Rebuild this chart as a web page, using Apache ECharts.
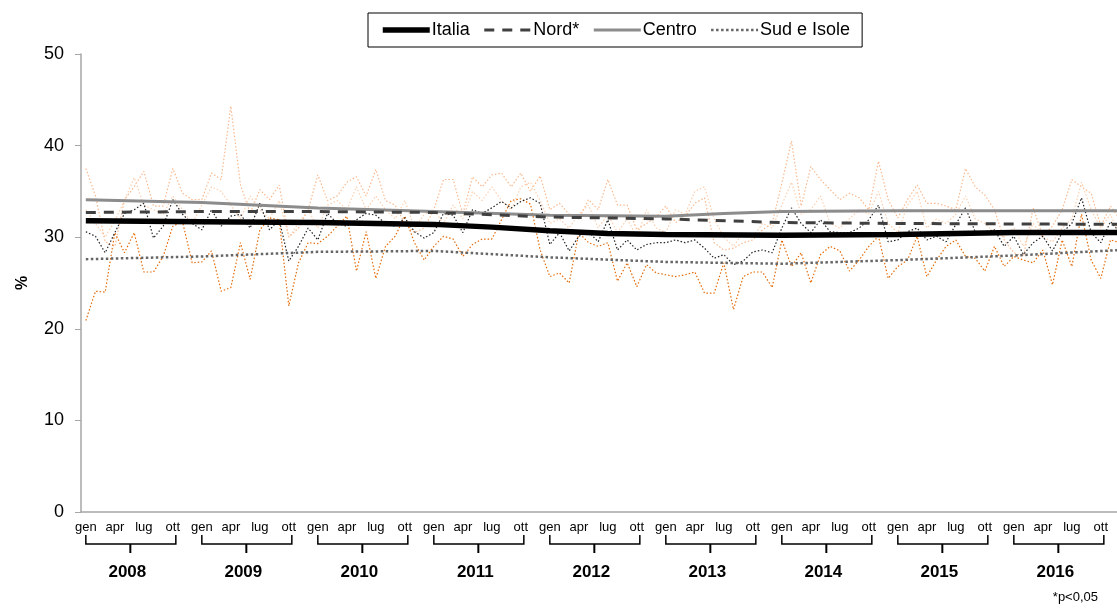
<!DOCTYPE html>
<html>
<head>
<meta charset="utf-8">
<script src="https://cdn.jsdelivr.net/npm/echarts@6/dist/echarts.min.js"></script>
<style>
  html, body { margin: 0; padding: 0; background: #fff; }
  #main { width: 1117px; height: 610px; }
</style>
</head>
<body>
<div id="main"></div>
<script>
const monthNames = ['gen', 'feb', 'mar', 'apr', 'mag', 'giu', 'lug', 'ago', 'set', 'ott', 'nov', 'dic'];
const years = ['2008', '2009', '2010', '2011', '2012', '2013', '2014', '2015', '2016'];

// monthly values (thin dotted lines)
const italiaMonthly = [
  30.6, 30.1, 28.3, 30.5, 32.6, 33.0, 33.7, 29.9, 31.2, 34.1, 32.5, 31.5,
  30.8, 33.0, 31.2, 32.3, 32.5, 31.0, 33.7, 30.8, 31.9, 27.4, 29.0, 31.0,
  29.7, 32.6, 31.5, 31.2, 31.9, 32.6, 32.4, 31.5, 31.2, 32.1, 30.6, 29.9,
  30.5, 32.6, 32.4, 30.5, 33.0, 32.6, 33.2, 33.9, 33.2, 33.9, 34.3, 33.7,
  29.2, 30.5, 28.5, 30.1, 30.6, 29.5, 31.9, 28.6, 29.7, 28.6, 29.2, 29.4,
  29.4, 29.7, 29.4, 29.7, 28.8, 27.7, 28.1, 27.0, 27.4, 28.4, 28.6, 28.3,
  31.0, 33.2, 31.5, 30.5, 31.9, 30.6, 30.5, 30.5, 31.0, 31.9, 33.5, 29.5,
  29.7, 30.6, 31.0, 29.7, 30.1, 29.5, 31.4, 33.2, 30.6, 30.6, 30.8, 29.0,
  30.1, 28.1, 29.4, 30.1, 28.5, 30.5, 31.5, 34.3, 30.5, 29.4, 31.7, 30.5
];
const nordMonthly = [
  33.0, 31.5, 30.0, 31.8, 34.0, 36.5, 33.5, 33.0, 32.5, 34.5, 33.0, 31.5,
  33.5, 35.5, 35.0, 33.5, 32.0, 34.5, 33.0, 32.0, 34.0, 30.0, 31.5, 33.0,
  31.0, 33.5, 34.0, 33.0, 35.5, 33.0, 34.5, 33.0, 32.0, 34.0, 31.0, 32.5,
  33.0, 31.5, 33.5, 32.0, 35.0, 34.0, 35.5, 34.0, 33.0, 35.5, 36.0, 34.0,
  31.5, 32.0, 31.0, 32.5, 33.5, 31.0, 32.5, 30.5, 32.0, 30.0, 33.0, 31.0,
  30.5, 33.0, 32.5, 35.0, 35.5, 32.0, 30.0, 29.0, 30.5, 30.0, 31.5, 31.0,
  33.5, 36.0, 32.5, 33.0, 34.5, 31.5, 31.0, 32.0, 33.0, 32.5, 35.0, 31.5,
  30.5, 33.5, 35.0, 31.0, 32.0, 31.5, 32.5, 34.5, 32.0, 31.5, 30.5, 30.0,
  31.0, 29.0, 31.5, 30.0, 29.5, 31.0, 32.0, 36.0, 33.0, 31.0, 32.5, 30.0
];
const centroMonthly = [
  37.5, 34.5, 29.5, 29.0, 34.1, 35.5, 37.2, 33.4, 33.4, 37.5, 34.8, 34.1,
  34.1, 37.0, 36.3, 44.3, 35.7, 32.6, 35.2, 34.1, 35.7, 30.0, 31.0, 33.0,
  36.8, 34.0, 34.5, 36.0, 36.6, 34.5, 37.4, 34.0, 33.5, 31.5, 30.5, 31.0,
  33.0, 36.3, 36.3, 32.5, 36.6, 35.5, 36.8, 37.0, 35.5, 37.0, 35.0, 36.7,
  33.0, 33.7, 32.5, 32.0, 34.1, 33.0, 36.3, 33.5, 33.5, 30.8, 31.5, 32.2,
  33.4, 31.6, 32.3, 33.7, 34.3, 29.4, 28.6, 28.8, 29.4, 29.7, 30.8, 31.5,
  35.9, 40.5, 33.4, 37.7, 36.3, 35.2, 34.1, 34.8, 34.3, 33.0, 38.3, 34.1,
  32.1, 34.1, 35.7, 33.7, 33.7, 33.4, 33.0, 37.5, 35.5, 34.6, 33.0, 29.7,
  28.3, 27.9, 33.2, 30.1, 31.2, 33.0, 36.3, 35.5, 34.8, 31.2, 33.4, 31.9
];
const sudMonthly = [
  20.9, 24.1, 24.0, 30.5, 28.3, 30.5, 26.2, 26.2, 27.9, 31.2, 31.7, 27.2,
  27.3, 28.5, 24.1, 24.5, 29.4, 25.4, 30.8, 32.1, 31.9, 22.5, 27.2, 29.4,
  29.3, 30.1, 31.2, 32.3, 26.3, 30.6, 25.5, 29.0, 30.1, 32.3, 29.4, 27.5,
  29.0, 30.1, 29.8, 27.9, 29.2, 29.8, 29.8, 31.9, 34.0, 34.2, 33.6, 28.6,
  25.7, 26.1, 25.0, 30.5, 29.4, 29.0, 29.4, 25.2, 27.2, 24.6, 27.0, 26.1,
  25.9, 25.7, 25.9, 26.2, 23.9, 23.9, 27.2, 22.1, 25.7, 26.2, 26.2, 24.5,
  29.7, 26.8, 28.3, 25.0, 28.1, 29.0, 28.5, 26.3, 27.5, 29.0, 30.1, 25.5,
  26.8, 27.5, 30.1, 25.7, 27.5, 29.0, 29.7, 27.9, 27.7, 26.3, 29.0, 26.8,
  27.9, 27.5, 27.2, 28.6, 24.8, 29.7, 26.8, 32.5, 27.5, 25.5, 29.7, 29.4
];

// trend lines: [month index, value]
const italiaTrend = [[0, 31.8], [12, 31.7], [24, 31.6], [36, 31.4], [42, 31.1], [48, 30.7], [54, 30.4], [60, 30.3], [72, 30.2], [84, 30.3], [96, 30.5], [107, 30.5]];
const nordTrend = [[0, 32.7], [12, 32.8], [24, 32.8], [36, 32.7], [48, 32.2], [60, 32.0], [72, 31.6], [84, 31.5], [107, 31.4]];
const centroTrend = [[0, 34.1], [12, 33.8], [24, 33.2], [36, 32.8], [48, 32.4], [60, 32.3], [66, 32.6], [72, 32.8], [84, 32.9], [107, 32.9]];
const sudTrend = [[0, 27.6], [12, 27.9], [24, 28.4], [36, 28.5], [48, 27.8], [60, 27.3], [72, 27.1], [84, 27.5], [96, 28.0], [107, 28.6]];

const monthCategories = [];
years.forEach(y => monthNames.forEach(m => monthCategories.push(m + ' ' + y)));

// year brackets: first and last labelled month (gen..ott)
const yearBrackets = years.map((y, i) => [i * 12, i * 12 + 9, 0]);

const FONT = 'Liberation Sans, Arial, sans-serif';

const STYLE = {
  italia: { color: '#000', width: 5.5, type: 'solid' },
  nord: { color: '#404040', width: 3, type: [10, 8] },
  centro: { color: '#8c8c8c', width: 3, type: 'solid' },
  sud: { color: '#666', width: 2.5, type: [2.5, 2.5] }
};

function monthly(name, data, color) {
  return {
    name, type: 'line', data, symbol: 'none', silent: true, z: 2,
    lineStyle: { color, width: 1.2, type: [1.5, 2] }
  };
}

function trend(name, data, style, z) {
  return {
    name, type: 'line', data, symbol: 'none', z,
    itemStyle: { color: style.color },
    lineStyle: style
  };
}

const chart = echarts.init(document.getElementById('main'));

chart.setOption({
  backgroundColor: '#fff',
  animation: false,
  textStyle: { fontFamily: FONT },
  title: {
    text: '*p<0,05', right: 14, top: 586,
    textStyle: { fontSize: 13, fontWeight: 'normal', color: '#000', fontFamily: FONT }
  },
  legend: {
    data: [
      { name: 'Italia', lineStyle: STYLE.italia },
      { name: 'Nord*', lineStyle: STYLE.nord },
      { name: 'Centro', lineStyle: STYLE.centro },
      { name: 'Sud e Isole', lineStyle: STYLE.sud }
    ],
    left: 368, top: 13,
    padding: [8, 12, 8, 12],
    borderColor: '#000', borderWidth: 1,
    itemWidth: 47, itemHeight: 18, itemGap: 13,
    itemStyle: { opacity: 0 },
    textStyle: { fontSize: 18, color: '#000', fontFamily: FONT, padding: [0, 0, 0, -3] }
  },
  grid: { left: 81, right: -8, top: 54, bottom: 98, outerBoundsMode: 'none' },
  xAxis: {
    type: 'category',
    data: monthCategories,
    boundaryGap: true,
    axisLine: { lineStyle: { color: '#a6a6a6', width: 1.5 } },
    axisTick: { interval: 2, length: 4, lineStyle: { color: '#d0d0d0' } },
    axisLabel: {
      interval: 2, margin: 9, color: '#000', fontSize: 13, fontFamily: FONT,
      formatter: v => v.split(' ')[0]
    }
  },
  yAxis: {
    type: 'value', min: 0, max: 50, interval: 10,
    name: '%', nameLocation: 'middle', nameGap: 50, nameRotate: 90,
    nameTextStyle: { fontSize: 16, fontWeight: 'bold', color: '#000', fontFamily: FONT },
    splitLine: { show: false },
    axisLine: { show: true, lineStyle: { color: '#a6a6a6', width: 1.5 } },
    axisTick: { show: true, length: 6, lineStyle: { color: '#a6a6a6' } },
    axisLabel: { color: '#000', fontSize: 18, margin: 17, fontFamily: FONT }
  },
  series: [
    monthly('Centro mensile', centroMonthly, '#f9b98e'),
    monthly('Nord mensile', nordMonthly, '#fbcfae'),
    monthly('Sud mensile', sudMonthly, '#e46c0a'),
    {
      name: 'Italia mensile', type: 'line', data: italiaMonthly, symbol: 'none', silent: true, z: 3,
      lineStyle: { color: '#222', width: 1.2, type: [1.5, 2] }
    },
    trend('Sud e Isole', sudTrend, STYLE.sud, 4),
    trend('Centro', centroTrend, STYLE.centro, 4),
    trend('Nord*', nordTrend, STYLE.nord, 5),
    trend('Italia', italiaTrend, STYLE.italia, 6),
    {
      name: 'anni', type: 'custom', data: yearBrackets, clip: false, silent: true,
      encode: { x: [0, 1], y: 2 },
      renderItem: (params, api) => {
        const a = api.coord([api.value(0), 0]);
        const b = api.coord([api.value(1), 0]);
        const y = a[1];
        const mid = (a[0] + b[0]) / 2;
        return {
          type: 'group',
          children: [
            {
              type: 'polyline',
              shape: { points: [[a[0], y + 23], [a[0], y + 32], [b[0] + 3, y + 32], [b[0] + 3, y + 23]] },
              style: { stroke: '#000', lineWidth: 1.5, fill: null }
            },
            {
              type: 'line',
              shape: { x1: mid + 1, y1: y + 32, x2: mid + 1, y2: y + 41 },
              style: { stroke: '#000', lineWidth: 2 }
            },
            {
              type: 'text',
              style: {
                text: years[params.dataIndex], x: mid - 2, y: y + 60,
                align: 'center', verticalAlign: 'middle',
                font: 'bold 17px ' + FONT, fill: '#000'
              }
            }
          ]
        };
      }
    }
  ]
});
</script>
</body>
</html>
